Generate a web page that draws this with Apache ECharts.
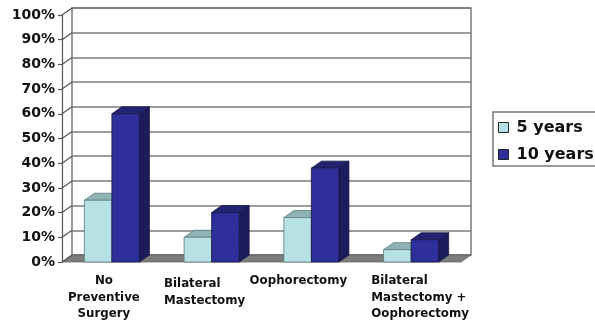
<!DOCTYPE html>
<html>
<head>
<meta charset="utf-8">
<script src="https://cdn.jsdelivr.net/npm/echarts@6/dist/echarts.min.js"></script>
<style>
  html, body { margin: 0; padding: 0; background: #ffffff; }
  #chart { width: 595px; height: 324px; }
</style>
</head>
<body>
<div id="chart"></div>
<script>
// ---- data ----
const categories = ['No\nPreventive\nSurgery', 'Bilateral\nMastectomy', 'Oophorectomy', 'Bilateral\nMastectomy +\nOophorectomy'];
const seriesNames = ['5 years', '10 years'];
const fiveYears = [25, 10, 18, 5];
const tenYears = [60, 20, 38, 9];
const yTicks = [0, 10, 20, 30, 40, 50, 60, 70, 80, 90, 100];

// ---- styling ----
const FONT = 'DejaVu Sans';
const TEXT = '#111111';
const DEPTH_X = 10;   // 3D depth offset of the plot box
const DEPTH_Y = -7;
const FRAME = '#7a7a7a';

const palettes = [
  { front: '#b7e2e5', top: '#8fb3b3', side: '#7fa3a5', edge: '#5d7c7e' },
  { front: '#2f2f9c', top: '#232374', side: '#1c1c5c', edge: '#15153f' }
];

// category label layout: alignment of lines, horizontal shift, first/other line heights
const labelAlign = ['center', 'left', 'center', 'left'];
const labelShift = [-8, -7, -13, 9];
const labelFirstLH = [16.5, 22, 16.5, 16.5];
const labelRestLH = [16.5, 12, 16.5, 16.5];

const rich = {};
categories.forEach(function (c, i) {
  const s = labelShift[i];
  const pad = s < 0 ? [0, -2 * s, 0, 0] : [0, 0, 0, 2 * s];
  const base = { fontFamily: FONT, fontWeight: 'bold', fontSize: 11.8, color: TEXT, align: labelAlign[i], padding: pad };
  rich['f' + i] = Object.assign({}, base, { lineHeight: labelFirstLH[i] });
  rich['r' + i] = Object.assign({}, base, { lineHeight: labelRestLH[i] });
});

function barRenderer(slot, pal) {
  return function (params, api) {
    const cat = api.value(0);
    const v = api.value(1);
    const base = api.coord([cat, 0]);
    const top = api.coord([cat, v]);
    const band = api.size([1, 0])[0];
    const bw = band * 0.276;
    const x0 = base[0] - bw + slot * bw;
    const x1 = x0 + bw;
    const y0 = top[1];
    const y1 = base[1];
    const dx = DEPTH_X, dy = DEPTH_Y;
    const lw = 0.8;
    return {
      type: 'group',
      children: [
        { type: 'polygon', shape: { points: [[x1, y0], [x1 + dx, y0 + dy], [x1 + dx, y1 + dy], [x1, y1]] },
          style: { fill: pal.side, stroke: pal.edge, lineWidth: lw } },
        { type: 'polygon', shape: { points: [[x0, y0], [x1, y0], [x1 + dx, y0 + dy], [x0 + dx, y0 + dy]] },
          style: { fill: pal.top, stroke: pal.edge, lineWidth: lw } },
        { type: 'rect', shape: { x: x0, y: y0, width: bw, height: y1 - y0 },
          style: { fill: pal.front, stroke: pal.edge, lineWidth: lw } }
      ]
    };
  };
}

// side wall edges at every tick plus the floor slab
function frameRenderer(params, api) {
  const cs = params.coordSys;
  const p = api.coord([0, api.value(1)]);
  const y = p[1];
  const x = cs.x;
  const children = [
    { type: 'line', shape: { x1: x, y1: y, x2: x + DEPTH_X, y2: y + DEPTH_Y },
      style: { stroke: '#555555', lineWidth: 1.2 } }
  ];
  if (api.value(1) === 0) {
    children.unshift({
      type: 'polygon',
      shape: { points: [[x, y], [x + cs.width, y], [x + cs.width + DEPTH_X, y + DEPTH_Y], [x + DEPTH_X, y + DEPTH_Y]] },
      style: { fill: '#7c7c7c', stroke: '#666666', lineWidth: 0.8 }
    });
  }
  return { type: 'group', children: children };
}

const chart = echarts.init(document.getElementById('chart'), null, { renderer: 'canvas' });

chart.setOption({
  animation: false,
  backgroundColor: '#ffffff',
  grid: [
    // front plane
    { left: 62, top: 15, width: 399, height: 247, outerBoundsMode: 'none', containLabel: false },
    // back wall
    { left: 62 + DEPTH_X, top: 15 + DEPTH_Y, width: 399, height: 247, outerBoundsMode: 'none', containLabel: false,
      show: true, backgroundColor: '#ffffff', borderColor: FRAME, borderWidth: 1.5 }
  ],
  xAxis: [
    {
      type: 'category', gridIndex: 0, data: categories, boundaryGap: true,
      axisLine: { show: false }, axisTick: { show: false }, splitLine: { show: false },
      axisLabel: {
        interval: 0, margin: 11, hideOverlap: false,
        formatter: function (value, index) {
          return value.split('\n').map(function (line, k) {
            return '{' + (k === 0 ? 'f' : 'r') + index + '|' + line + '}';
          }).join('\n');
        },
        rich: rich
      }
    },
    {
      type: 'category', gridIndex: 1, data: categories, boundaryGap: true,
      axisLine: { show: false }, axisTick: { show: false }, axisLabel: { show: false }, splitLine: { show: false }
    }
  ],
  yAxis: [
    {
      type: 'value', gridIndex: 0, min: 0, max: 100, interval: 10,
      axisLine: { show: true, lineStyle: { color: '#555555', width: 1.2 } },
      axisTick: { show: true, inside: false, length: 4, lineStyle: { color: '#555555', width: 1.2 } },
      splitLine: { show: false },
      axisLabel: {
        formatter: '{value}%', margin: 7,
        fontFamily: FONT, fontWeight: 'bold', fontSize: 14, color: TEXT
      }
    },
    {
      type: 'value', gridIndex: 1, min: 0, max: 100, interval: 10,
      axisLine: { show: false }, axisTick: { show: false }, axisLabel: { show: false },
      splitLine: { show: true, lineStyle: { color: FRAME, width: 1.5 } }
    }
  ],
  legend: {
    data: seriesNames,
    orient: 'vertical',
    left: 493, top: 112,
    icon: 'rect',
    itemWidth: 10, itemHeight: 10, itemGap: 10,
    padding: [7, 12, 3, 5],
    borderColor: '#777777', borderWidth: 1.5,
    backgroundColor: '#ffffff',
    itemStyle: { borderColor: '#222222', borderWidth: 1 },
    textStyle: { fontFamily: FONT, fontWeight: 'bold', fontSize: 16, color: TEXT, lineHeight: 17, padding: [0, 0, 0, 3] }
  },
  series: [
    {
      name: 'frame', type: 'custom', xAxisIndex: 0, yAxisIndex: 0, clip: false, silent: true,
      encode: { x: 0, y: 1 },
      data: yTicks.map(function (t) { return [0, t]; }),
      renderItem: frameRenderer
    },
    {
      name: seriesNames[0], type: 'custom', xAxisIndex: 0, yAxisIndex: 0, clip: false,
      itemStyle: { color: palettes[0].front },
      encode: { x: 0, y: 1 },
      data: fiveYears.map(function (v, i) { return [i, v]; }),
      renderItem: barRenderer(0, palettes[0])
    },
    {
      name: seriesNames[1], type: 'custom', xAxisIndex: 0, yAxisIndex: 0, clip: false,
      itemStyle: { color: palettes[1].front },
      encode: { x: 0, y: 1 },
      data: tenYears.map(function (v, i) { return [i, v]; }),
      renderItem: barRenderer(1, palettes[1])
    }
  ]
});
</script>
</body>
</html>
